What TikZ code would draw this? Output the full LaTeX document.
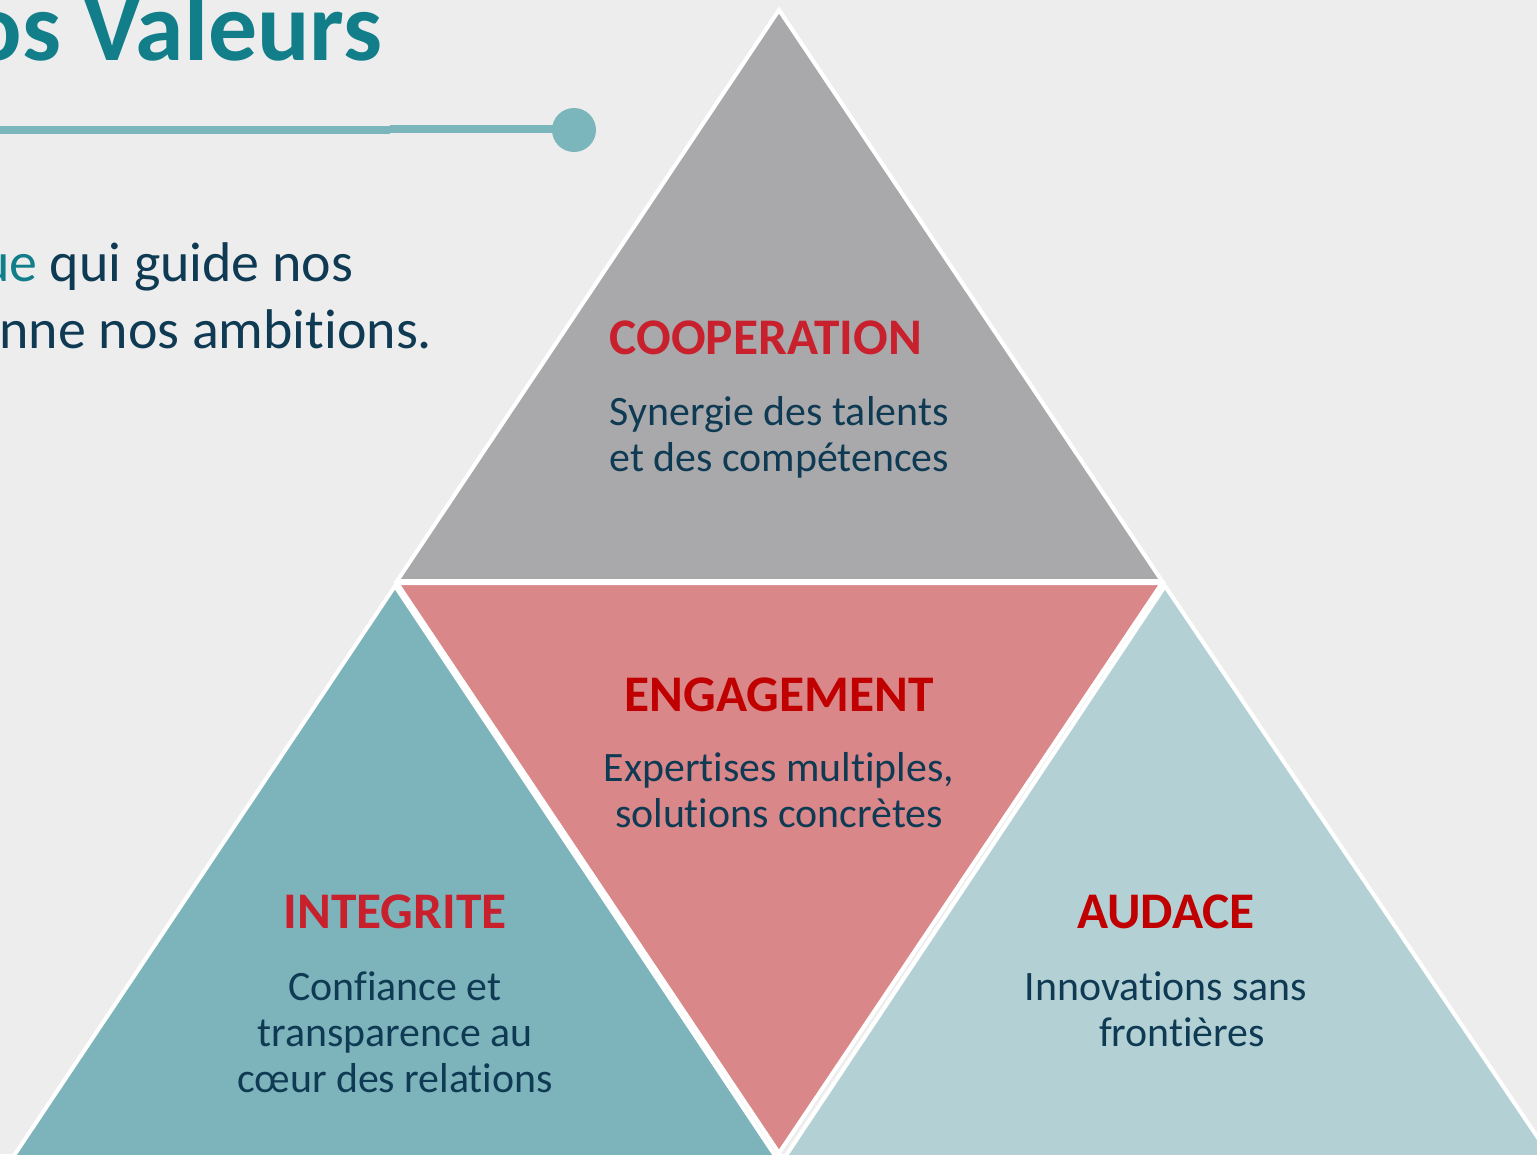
\documentclass[tikz,border=0pt]{standalone}
\usepackage{fontspec}
\setmainfont{Carlito}[Ligatures=NoCommon]
\definecolor{bgc}{HTML}{EDEDED}
\definecolor{titleteal}{HTML}{117E8A}
\definecolor{linec}{HTML}{7AB6BC}
\definecolor{navy}{HTML}{0F3A53}
\definecolor{redA}{HTML}{C8202D}
\definecolor{redB}{HTML}{C00000}
\definecolor{greytri}{HTML}{A9A9AB}
\definecolor{pinktri}{HTML}{D98789}
\definecolor{tealtri}{HTML}{7DB4BB}
\definecolor{lighttri}{HTML}{B3D1D4}
\tikzset{
  tri/.style={draw=white, line width=1.14pt, line join=miter},
  lbl/.style={inner sep=0pt, font=\fontsize{14.6}{17}\selectfont\bfseries},
  body/.style={inner sep=0pt, text=navy, font=\fontsize{11.9}{13.1}\selectfont},
}
\begin{document}
\begin{tikzpicture}[x=0.01cm,y=-0.01cm]
\useasboundingbox (0,0) rectangle (1537,1154);
\clip (0,0) rectangle (1537,1154);
\fill[bgc] (0,0) rectangle (1537,1154);

% title and subtitle
\node[anchor=base east, inner sep=0pt, text=titleteal, font=\fontsize{27.8}{33}\selectfont\bfseries] (title) at (383,60) {os Valeurs};
\draw[linec, line width=2.3pt] (0,130) -- (390,130);
\draw[linec, line width=2pt] (390,129) -- (560,129);
\fill[linec] (574,130) circle[radius=22];
\node[anchor=base east, inner sep=0pt, text=navy, font=\fontsize{15.9}{19}\selectfont] (sub1) at (354,281) {\textcolor{titleteal}{ue} qui guide nos};
\node[anchor=base east, inner sep=0pt, text=navy, font=\fontsize{15.9}{19}\selectfont] (sub2) at (433,348) {nne nos ambitions.};

% triangles
\filldraw[tri, fill=greytri] (779,10) -- (1162,581) -- (397,581) -- cycle;
\filldraw[tri, fill=pinktri] (397,583) -- (1162,583) -- (779,1153) -- cycle;
\filldraw[tri, fill=tealtri] (395,586) -- (778,1160) -- (11,1160) -- cycle;
\filldraw[tri, fill=lighttri] (1165,586) -- (1553,1160) -- (783,1160) -- cycle;

% COOPERATION
\node[lbl, text=redA, anchor=base west] (coop) at (609,354) {COOPERATION};
\node[body, anchor=base west] (coop1) at (609,425) {Synergie des talents};
\node[body, anchor=base west] (coop2) at (609,471) {et des compétences};

% ENGAGEMENT
\node[lbl, text=redB, anchor=base] (eng) at (779,711) {ENGAGEMENT};
\node[body, anchor=base] (eng1) at (779,781) {Expertises multiples,};
\node[body, anchor=base] (eng2) at (779,827) {solutions concrètes};

% INTEGRITE
\node[lbl, text=redA, anchor=base] (integ) at (395,928) {INTEGRITE};
\node[body, anchor=base] (integ1) at (395,1000) {Confiance et};
\node[body, anchor=base] (integ2) at (395,1046) {transparence au};
\node[body, anchor=base] (integ3) at (395,1092) {cœur des relations};

% AUDACE
\node[lbl, text=redB, anchor=base] (aud) at (1166,928) {AUDACE};
\node[body, anchor=base] (aud1) at (1166,1000) {Innovations sans};
\node[body, anchor=base] (aud2) at (1182,1046) {frontières};
\end{tikzpicture}
\end{document}
